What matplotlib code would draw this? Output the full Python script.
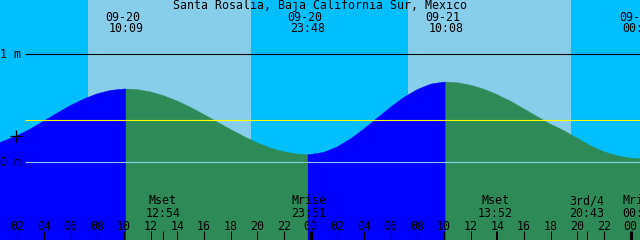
import matplotlib
matplotlib.use("Agg")
import matplotlib.pyplot as plt
from matplotlib.transforms import blended_transform_factory

# ---------------- data ----------------
title = "Santa Rosalia, Baja California Sur, Mexico"

# tide heights (m), hours since 09-20 00:00
curve_hours = [0, 1, 2, 3, 4, 5, 6, 7, 8, 9, 10, 10.15,
               11, 12, 13, 14, 15, 16, 17, 18, 19, 20, 21, 22, 23, 23.8,
               24, 25, 26, 27, 28, 29, 30, 31, 32, 33, 34, 34.133,
               35, 36, 37, 38, 39, 40, 41, 42, 43, 44, 45, 46, 47, 48, 48.7, 49]
curve_heights = [0.15, 0.195, 0.245, 0.307, 0.38, 0.454, 0.524, 0.584, 0.632, 0.663, 0.676, 0.676,
                 0.670, 0.649, 0.613, 0.564, 0.506, 0.440, 0.370, 0.301, 0.236, 0.177, 0.129, 0.094, 0.073, 0.068,
                 0.069, 0.090, 0.140, 0.215, 0.307, 0.408, 0.508, 0.599, 0.671, 0.721, 0.740, 0.740,
                 0.734, 0.711, 0.674, 0.623, 0.562, 0.492, 0.420, 0.350, 0.290, 0.220, 0.150, 0.095, 0.057, 0.036, 0.030, 0.032]

# tide extremes (high / low)
tide_times = [10.15, 23.8, 34.133, 48.7]
tide_dates = ["09-20", "09-20", "09-21", "09-22"]
tide_clock = ["10:09", "23:48", "10:08", "00:42"]

# moon events
moon_times = [12.9, 23.85, 37.867, 44.717, 48.683]
moon_names = ["Mset", "Mrise", "Mset", "3rd/4", "Mrise"]
moon_clock = ["12:54", "23:51", "13:52", "20:43", "00:41"]

# daylight intervals (hours)
day_starts = [7.3, 31.3]
day_ends = [19.53, 43.53]

mean_level = 0.389
mark_time, mark_height = 1.9, 0.24

hour_ticks = list(range(2, 49, 2))
hour_labels = ["%02d" % (h % 24) for h in hour_ticks]

# ---------------- layout ----------------
W, H = 640, 240
T0, T1 = 0.7, 48.7
PPH = W / (T1 - T0)
Y_TOP, Y_BOT = 1.5, -(H - 162) / 108.0

NIGHT = "#00BFFF"
DAY = "#87CEEB"
RISE = "#0000FF"
FALL = "#2E8B57"

FONT = "DejaVu Sans Mono"
FS = 8.4

def px2t(px):
    return T0 + px / PPH

def py2a(py):
    return 1 - py / H

fig = plt.figure(figsize=(W / 100, H / 100), dpi=100)
ax = fig.add_axes([0, 0, 1, 1])
ax.set_xlim(T0, T1)
ax.set_ylim(Y_BOT, Y_TOP)
ax.set_axis_off()
ax.add_patch(plt.Rectangle((0, 0), 1, 1, transform=ax.transAxes, color=NIGHT, zorder=0))
for a, b in zip(day_starts, day_ends):
    ax.axvspan(a, b, color=DAY, lw=0, zorder=1)

# tide fill, coloured by rising / falling
bounds = [curve_hours[0]] + tide_times[:-1] + [curve_hours[-1]]
for i in range(len(bounds) - 1):
    a, b = bounds[i], bounds[i + 1]
    xs = [t for t in curve_hours if a <= t <= b]
    ys = [h for t, h in zip(curve_hours, curve_heights) if a <= t <= b]
    col = RISE if i % 2 == 0 else FALL
    ax.fill_between(xs, Y_BOT - 1, ys, color=col, lw=0.3, edgecolor=col, zorder=2)

# reference lines
xl = px2t(25)
ax.hlines(1.0, xl, T1 + 1, color="black", lw=0.8, zorder=3)
ax.hlines(mean_level, xl, T1 + 1, color="#FFFF00", lw=0.8, zorder=3)
ax.hlines(0.0, xl, T1 + 1, color="#87CEEB", lw=0.8, zorder=3)
ax.plot([mark_time], [mark_height], marker="+", ms=8, mew=0.9, color="black", zorder=4)

ax.text(px2t(0.5), 1.0, "1 m", family=FONT, fontsize=FS, ha="left", va="center", zorder=5)
ax.text(px2t(0.5), 0.0, "0 m", family=FONT, fontsize=FS, ha="left", va="center", zorder=5)

tr = blended_transform_factory(ax.transData, ax.transAxes)

# title
ax.text(0.5, py2a(6), title, transform=ax.transAxes, family=FONT, fontsize=FS,
        ha="center", va="center", zorder=5)

# tide extreme labels
for t, d, c in zip(tide_times, tide_dates, tide_clock):
    ax.text(t - 3.5 / PPH, py2a(17.5), d, transform=tr, family=FONT, fontsize=FS,
            ha="center", va="center", zorder=5)
    ax.text(t, py2a(29), c, transform=tr, family=FONT, fontsize=FS,
            ha="center", va="center", zorder=5)

# hour ticks
for h, lab in zip(hour_ticks, hour_labels):
    lw = 2.2 if h % 24 == 0 else 0.75
    ax.vlines(h, py2a(240), py2a(230.5), transform=tr, color="black", lw=lw, zorder=5)
    ax.text(h, py2a(226), lab, transform=tr, family=FONT, fontsize=FS,
            ha="center", va="center", zorder=5)

# moon events
for t, n, c in zip(moon_times, moon_names, moon_clock):
    ax.vlines(t, py2a(240), py2a(230.5), transform=tr, color="black", lw=0.75, zorder=5)
    ax.text(t, py2a(201), n, transform=tr, family=FONT, fontsize=FS,
            ha="center", va="center", zorder=5)
    ax.text(t, py2a(213.5), c, transform=tr, family=FONT, fontsize=FS,
            ha="center", va="center", zorder=5)

fig.savefig("out.png", dpi=100)
